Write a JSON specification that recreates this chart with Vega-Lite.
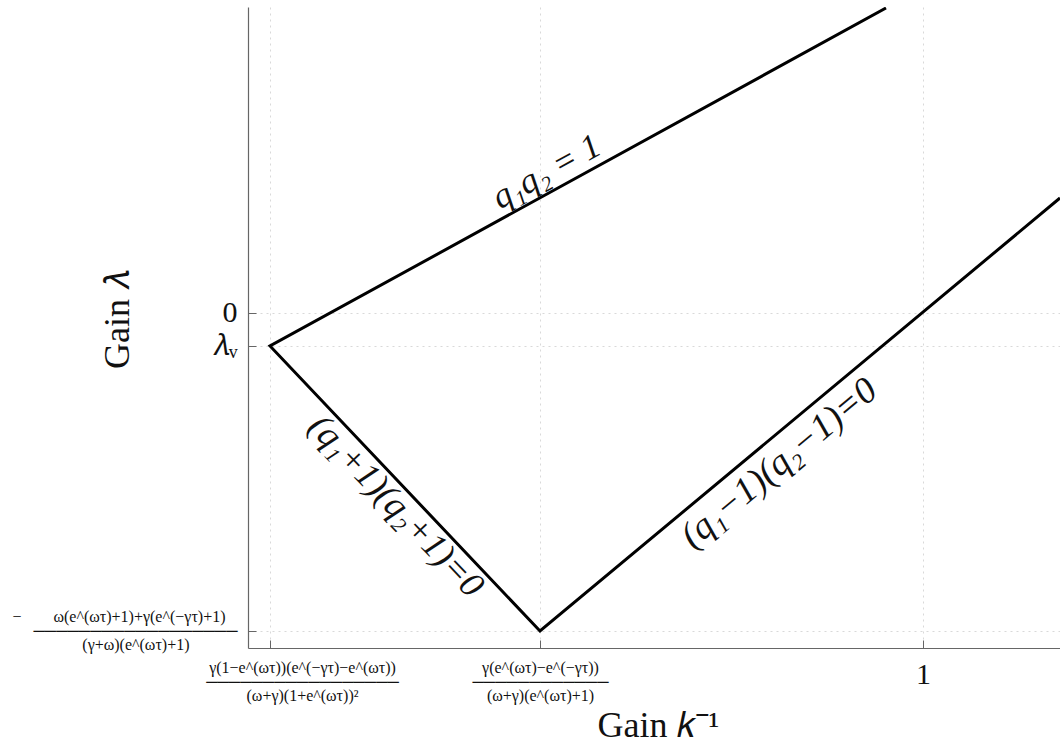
{
  "$schema": "https://vega.github.io/schema/vega-lite/v6.json",
  "autosize": "none",
  "width": 812,
  "height": 641,
  "padding": {"left": 248, "top": 7, "right": 0, "bottom": 96},
  "background": "white",
  "config": {
    "view": {"stroke": null},
    "font": "Liberation Serif"
  },
  "datasets": {
    "path": [
      {"order": 0, "x": 0.9452, "y": 1.0167},
      {"order": 1, "x": 0.0326, "y": -0.11},
      {"order": 2, "x": 0.4326, "y": -1.06},
      {"order": 3, "x": 1.203, "y": 0.3833}
    ],
    "labels": [
      {"which": "a", "x": 0.4563, "y": 0.4133, "label": "q₁q₂ = 1"},
      {"which": "b", "x": 0.24, "y": -0.6, "label": "(q₁+1)(q₂+1)=0"},
      {"which": "c", "x": 0.768, "y": -0.45, "label": "(q₁−1)(q₂−1)=0"}
    ]
  },
  "encoding": {
    "x": {
      "field": "x", "type": "quantitative",
      "scale": {"domain": [0, 1.203], "nice": false, "zero": false}
    },
    "y": {
      "field": "y", "type": "quantitative",
      "scale": {"domain": [-1.1167, 1.02], "nice": false, "zero": false}
    }
  },
  "layer": [
    {
      "data": {"name": "path"},
      "mark": {"type": "line", "color": "black", "strokeWidth": 3, "clip": true},
      "encoding": {
        "order": {"field": "order", "type": "quantitative"},
        "x": {
          "field": "x", "type": "quantitative",
          "axis": {
            "values": [0.0326, 0.4326, 1],
            "title": "Gain 𝑘⁻¹",
            "titleFontSize": 36,
            "titleFontWeight": "normal",
            "titleColor": "#111",
            "titleX": 410,
            "titleY": 88,
            "titleBaseline": "alphabetic",
            "titleAlign": "center",
            "domainColor": "#666",
            "domainWidth": 1.2,
            "tickColor": "#666",
            "tickSize": -8,
            "grid": true,
            "gridColor": "#d9d9d9",
            "gridDash": [2, 4],
            "gridWidth": 1,
            "labelColor": "#111",
            "labelFontSize": {"condition": {"test": "datum.value == 1", "value": 30}, "value": 16},
            "labelOffset": {"condition": {"test": "datum.value < 0.1", "value": 32}, "value": 0},
            "labelLineHeight": 14,
            "labelPadding": 19,
            "labelBaseline": "top",
            "labelLimit": 0,
            "labelOverlap": false,
            "labelBound": false,
            "labelFlush": false,
            "labelExpr": "datum.value == 1 ? '1' : datum.value < 0.1 ? ['γ(1−e^(ωτ))(e^(−γτ)−e^(ωτ))', '─────────────────', '(ω+γ)(1+e^(ωτ))²'] : ['γ(e^(ωτ)−e^(−γτ))', '────────────', '(ω+γ)(e^(ωτ)+1)']"
          }
        },
        "y": {
          "field": "y", "type": "quantitative",
          "axis": {
            "values": [0, -0.11, -1.06],
            "title": "Gain 𝜆",
            "titleFontSize": 36,
            "titleFontWeight": "normal",
            "titleColor": "#111",
            "titleAngle": -90,
            "titleX": -120,
            "titleY": 312,
            "titleBaseline": "alphabetic",
            "titleAlign": "center",
            "domainColor": "#666",
            "domainWidth": 1.2,
            "tickColor": "#666",
            "tickSize": -8,
            "grid": true,
            "gridColor": "#d9d9d9",
            "gridDash": [2, 4],
            "gridWidth": 1,
            "labelColor": "#111",
            "labelFontSize": {"condition": {"test": "datum.value > -0.5", "value": 30}, "value": 16},
            "labelOffset": {"condition": {"test": "datum.value < -0.5", "value": -14}, "value": 0},
            "labelLineHeight": 14,
            "labelPadding": 19,
            "labelLimit": 0,
            "labelOverlap": false,
            "labelBound": false,
            "labelFlush": false,
            "labelExpr": "datum.value == 0 ? '0' : datum.value > -0.5 ? '𝜆ᵥ' : ['−\u00a0\u00a0\u00a0\u00a0\u00a0\u00a0\u00a0\u00a0ω(e^(ωτ)+1)+γ(e^(−γτ)+1)\u00a0\u00a0\u00a0\u200b', '──────────────────', '(γ+ω)(e^(ωτ)+1)\u00a0\u00a0\u00a0\u00a0\u00a0\u00a0\u00a0\u00a0\u00a0\u00a0\u00a0\u00a0\u200b']"
          }
        }
      }
    },
    {
      "data": {"name": "labels"},
      "transform": [{"filter": "datum.which == 'a'"}],
      "mark": {"type": "text", "angle": -28.8, "baseline": "bottom", "align": "center", "dy": -2, "fontSize": 35, "fontStyle": "italic", "color": "#111"},
      "encoding": {"text": {"field": "label"}}
    },
    {
      "data": {"name": "labels"},
      "transform": [{"filter": "datum.which == 'b'"}],
      "mark": {"type": "text", "angle": 46.5, "baseline": "top", "align": "center", "dy": 2, "fontSize": 36, "fontStyle": "italic", "color": "#111"},
      "encoding": {"text": {"field": "label"}}
    },
    {
      "data": {"name": "labels"},
      "transform": [{"filter": "datum.which == 'c'"}],
      "mark": {"type": "text", "angle": -39.8, "baseline": "top", "align": "center", "dy": 2, "fontSize": 37, "fontStyle": "italic", "color": "#111"},
      "encoding": {"text": {"field": "label"}}
    }
  ]
}
